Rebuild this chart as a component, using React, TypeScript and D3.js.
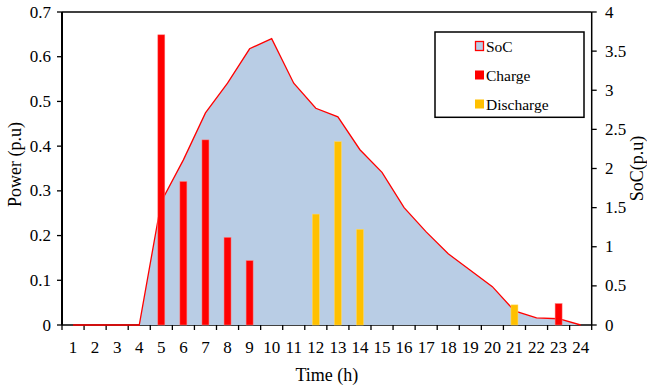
import React from "react";
import * as d3 from "d3";

const hours = d3.range(1, 25).map(String);
const socValues = [0, 0, 0, 0, 1.58, 2.11, 2.71, 3.09, 3.53, 3.66, 3.09, 2.77, 2.66, 2.24, 1.95, 1.5, 1.19, 0.91, 0.7, 0.49, 0.18, 0.09, 0.08, 0];
const chargeValues = [0, 0, 0, 0, 0.649, 0.321, 0.414, 0.196, 0.144, 0, 0, 0, 0, 0, 0, 0, 0, 0, 0, 0, 0, 0, 0.048, 0];
const dischargeValues = [0, 0, 0, 0, 0, 0, 0, 0, 0, 0, 0, 0.248, 0.41, 0.214, 0, 0, 0, 0, 0, 0, 0.045, 0, 0, 0];
const powerTicks = [0, 0.1, 0.2, 0.3, 0.4, 0.5, 0.6, 0.7];
const socTicks = [0, 0.5, 1, 1.5, 2, 2.5, 3, 3.5, 4];
const legendItems = ["SoC", "Charge", "Discharge"];

const W = 647, H = 385;
const L = 62, R = 591.7, T = 12, B = 325;
const FONT = "'Liberation Serif', 'Times New Roman', serif";
const RED = "#FF0000", ORANGE = "#FFC000", BLUE = "#B9CDE5";

export default function App() {
  const x = d3.scaleBand().domain(hours).range([L, R]).padding(0);
  const yP = d3.scaleLinear().domain([0, 0.7]).range([B, T]);
  const yS = d3.scaleLinear().domain([0, 4]).range([B, T]);
  const cx = (h: string) => (x(h) as number) + x.bandwidth() / 2;
  const bw = 7;

  const area = d3.area<number>().x((_, i) => cx(hours[i])).y0(B).y1((d) => yS(d));
  const line = d3.line<number>().x((_, i) => cx(hours[i])).y((d) => yS(d));

  const boundaries = d3.range(0, 25).map((i) => L + i * x.bandwidth());

  return (
    <svg width={W} height={H} style={{ position: "absolute", left: 0, top: 0, display: "block" }} fontFamily={FONT}>
      <rect x={0} y={0} width={W} height={H} fill="#fff" />
      {/* frame */}
      <line x1={L} x2={R} y1={T} y2={T} stroke="#000" strokeWidth={1.5} />
      <line x1={L} x2={L} y1={T} y2={B} stroke="#000" strokeWidth={2} />
      <line x1={R} x2={R} y1={T} y2={B} stroke="#000" strokeWidth={1.5} />
      <line x1={L} x2={R} y1={B} y2={B} stroke="#000" strokeWidth={1.5} />
      {/* left ticks */}
      {powerTicks.map((t) => (
        <g key={"p" + t}>
          <line x1={L - 5} x2={L} y1={yP(t)} y2={yP(t)} stroke="#000" strokeWidth={1.3} />
          <text x={51} y={yP(t) + 5.5} textAnchor="end" fontSize={17} fill="#000">{t === 0 ? "0" : t.toFixed(1)}</text>
        </g>
      ))}
      {/* right ticks */}
      {socTicks.map((t) => (
        <g key={"s" + t}>
          <line x1={R} x2={R + 5} y1={yS(t)} y2={yS(t)} stroke="#000" strokeWidth={1.3} />
          <text x={605} y={yS(t) + 5.5} textAnchor="start" fontSize={17} fill="#000">{String(t)}</text>
        </g>
      ))}
      {/* bottom ticks */}
      {boundaries.map((b, i) => (
        <line key={"b" + i} x1={b} x2={b} y1={B} y2={B + 5} stroke="#000" strokeWidth={1.3} />
      ))}
      {hours.map((h) => (
        <text key={"h" + h} x={cx(h)} y={353} textAnchor="middle" fontSize={17} fill="#000">{h}</text>
      ))}
      {/* SoC area + line */}
      <path d={area(socValues) as string} fill={BLUE} />
      <path d={line(socValues) as string} fill="none" stroke={RED} strokeWidth={1.3} />
      {/* bars */}
      {chargeValues.map((v, i) =>
        v > 0 ? (
          <rect key={"c" + i} x={cx(hours[i]) - bw / 2} y={yP(v)} width={bw} height={B - yP(v)} fill={RED} stroke="#ff8080" strokeWidth={0.5} />
        ) : null
      )}
      {dischargeValues.map((v, i) =>
        v > 0 ? (
          <rect key={"d" + i} x={cx(hours[i]) - bw / 2} y={yP(v)} width={bw} height={B - yP(v)} fill={ORANGE} stroke="#ffd966" strokeWidth={0.5} />
        ) : null
      )}
      {/* titles */}
      <text transform={`translate(21,${(T + B) / 2 - 4}) rotate(-90)`} textAnchor="middle" fontSize={18} fill="#000">Power (p.u)</text>
      <text transform={`translate(643,${(T + B) / 2}) rotate(-90)`} textAnchor="middle" fontSize={18} fill="#000">SoC(p.u)</text>
      <text x={(L + R) / 2} y={381} textAnchor="middle" fontSize={18} fill="#000">Time (h)</text>
      {/* legend */}
      <rect x={435} y={32} width={149} height={85.3} fill="#fff" stroke="#000" strokeWidth={1.5} />
      {legendItems.map((name, i) => {
        const yc = 46 + i * 29;
        return (
          <g key={name}>
            {i === 0 ? (
              <rect x={475.5} y={yc - 4.5} width={8} height={9} fill={BLUE} stroke={RED} strokeWidth={1.3} />
            ) : (
              <rect x={475} y={yc - 4.5} width={9} height={9} fill={i === 1 ? RED : ORANGE} />
            )}
            <text x={486} y={yc + 6} fontSize={15.5} fill="#000">{name}</text>
          </g>
        );
      })}
    </svg>
  );
}
